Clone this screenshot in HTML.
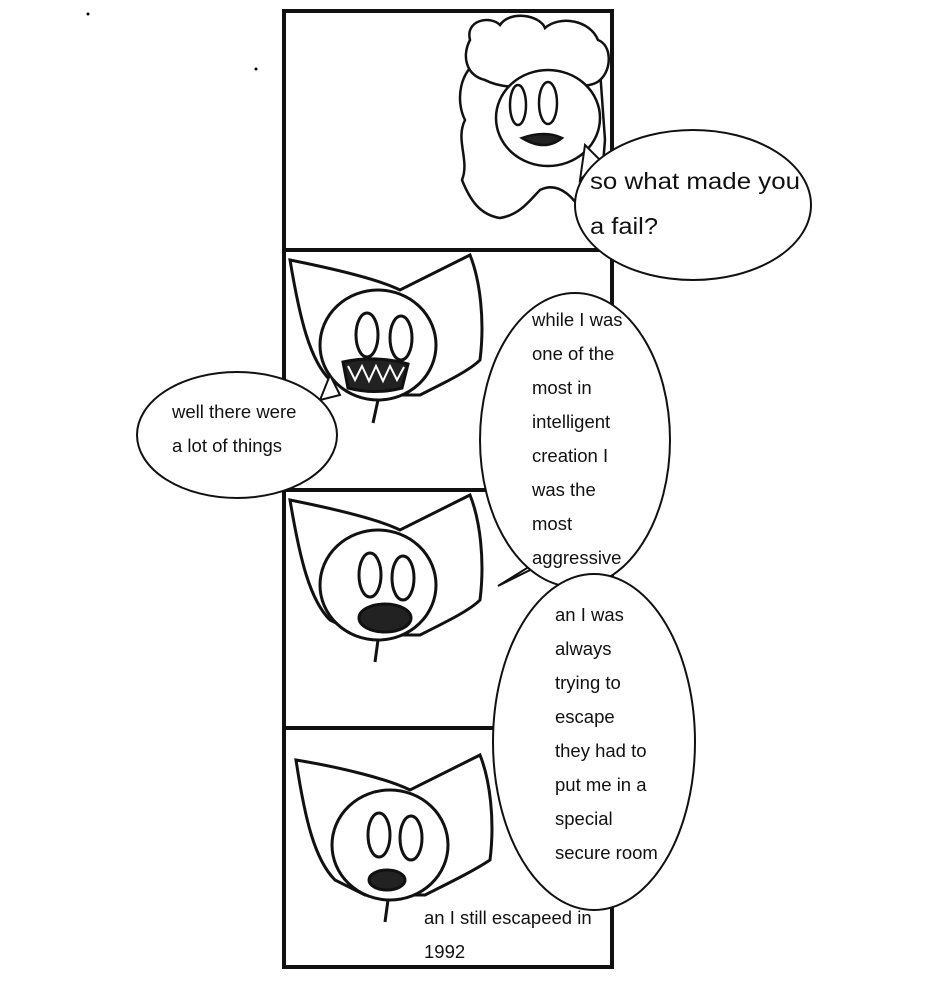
<!DOCTYPE html>
<html><head><meta charset="utf-8"><style>
html,body{margin:0;padding:0;background:#fff;}
svg{display:block}
text{font-family:"Liberation Sans",sans-serif;fill:#111}
</style></head><body>
<svg width="940" height="1000" viewBox="0 0 940 1000" xmlns="http://www.w3.org/2000/svg">
<rect width="940" height="1000" fill="#fff"/>
<circle cx="88" cy="14" r="1.5" fill="#000"/>
<circle cx="256" cy="69" r="1.5" fill="#000"/>
<g stroke="#111" stroke-width="4" fill="none">
<rect x="284" y="11" width="328" height="956"/>
<line x1="284" y1="250" x2="612" y2="250"/>
<line x1="284" y1="490" x2="612" y2="490"/>
<line x1="284" y1="728" x2="612" y2="728"/>
</g>
<g stroke="#111" stroke-width="2.5" fill="#fff">
<path d="M480 60 C460 70 455 100 465 120 C455 140 470 160 462 180 C470 200 480 215 500 218 C520 215 530 200 540 190 C560 180 575 200 585 215 L600 200 L605 140 L600 70 Z"/>
<path d="M470 40 C465 20 490 15 500 25 C510 10 540 15 545 28 C560 15 590 20 598 40 C612 45 612 70 600 80 C590 90 560 85 550 82 C530 90 500 88 485 80 C465 75 462 55 470 40Z"/>
<ellipse cx="548" cy="118" rx="52" ry="48"/>
<ellipse cx="518" cy="105" rx="8" ry="20"/>
<ellipse cx="548" cy="103" rx="9" ry="21"/>
<path d="M522 138 Q545 130 562 138 Q545 152 522 138Z" fill="#222"/>
</g>
<g stroke="#111" stroke-width="3" fill="#fff">
<path d="M290 260 C300 320 310 360 330 380 L360 395 L420 395 C450 380 470 370 480 360 C485 320 480 280 470 255 C440 270 410 285 400 290 C380 280 340 270 290 260Z"/>
<ellipse cx="378" cy="345" rx="58" ry="55"/>
<ellipse cx="367" cy="335" rx="11" ry="22"/>
<ellipse cx="401" cy="338" rx="11" ry="22"/>
<path d="M343 362 Q375 355 408 364 L402 388 Q375 395 348 388Z" fill="#222"/>
<path d="M348 366 L355 380 L362 366 L369 381 L376 366 L383 381 L390 366 L397 380 L404 367" stroke="#fff" stroke-width="2" fill="none"/>
<line x1="378" y1="400" x2="373" y2="423"/>
<path d="M290 500 C300 560 310 600 330 620 L360 635 L420 635 C450 620 470 610 480 600 C485 560 480 520 470 495 C440 510 410 525 400 530 C380 520 340 510 290 500Z"/>
<ellipse cx="378" cy="585" rx="58" ry="55"/>
<ellipse cx="370" cy="575" rx="11" ry="22"/>
<ellipse cx="403" cy="578" rx="11" ry="22"/>
<ellipse cx="385" cy="618" rx="26" ry="14" fill="#222"/>
<line x1="378" y1="640" x2="375" y2="662"/>
<path d="M296 760 C305 820 315 860 335 880 L365 895 L425 895 C455 880 475 870 490 860 C495 820 490 780 480 755 C450 770 420 785 410 790 C390 780 345 768 296 760Z"/>
<ellipse cx="390" cy="845" rx="58" ry="55"/>
<ellipse cx="379" cy="835" rx="11" ry="22"/>
<ellipse cx="411" cy="838" rx="11" ry="22"/>
<ellipse cx="387" cy="880" rx="18" ry="10" fill="#222"/>
<line x1="388" y1="900" x2="385" y2="922"/>
</g>
<g stroke="#111" stroke-width="2" fill="#fff">
<path d="M585 145 L600 160 L580 180Z"/>
<ellipse cx="693" cy="205" rx="118" ry="75"/>
<path d="M330 375 L340 395 L320 400Z"/>
<ellipse cx="237" cy="435" rx="100" ry="63"/>
<path d="M540 560 L498 586 L530 570Z"/>
<ellipse cx="575" cy="440" rx="95" ry="147"/>
<ellipse cx="594" cy="742" rx="101" ry="168"/>
</g>
<g font-size="23">
<text x="590" y="189" textLength="210" lengthAdjust="spacingAndGlyphs">so what made you</text>
<text x="590" y="234" textLength="68" lengthAdjust="spacingAndGlyphs">a fail?</text>
</g>
<g font-size="18.5">
<text x="172" y="418">well there were</text>
<text x="172" y="452">a lot  of things</text>
<text x="532" y="326">while I was</text>
<text x="532" y="360">one of the</text>
<text x="532" y="394">most in</text>
<text x="532" y="428">intelligent</text>
<text x="532" y="462">creation I</text>
<text x="532" y="496">was the</text>
<text x="532" y="530">most</text>
<text x="532" y="564">aggressive</text>
<text x="555" y="621">an I was</text>
<text x="555" y="655">always</text>
<text x="555" y="689">trying to</text>
<text x="555" y="723">escape</text>
<text x="555" y="757">they had to</text>
<text x="555" y="791">put me in a</text>
<text x="555" y="825">special</text>
<text x="555" y="859">secure room</text>
<text x="424" y="924">an I still escapeed in</text>
<text x="424" y="958">1992</text>
</g>
</svg>
</body></html>
